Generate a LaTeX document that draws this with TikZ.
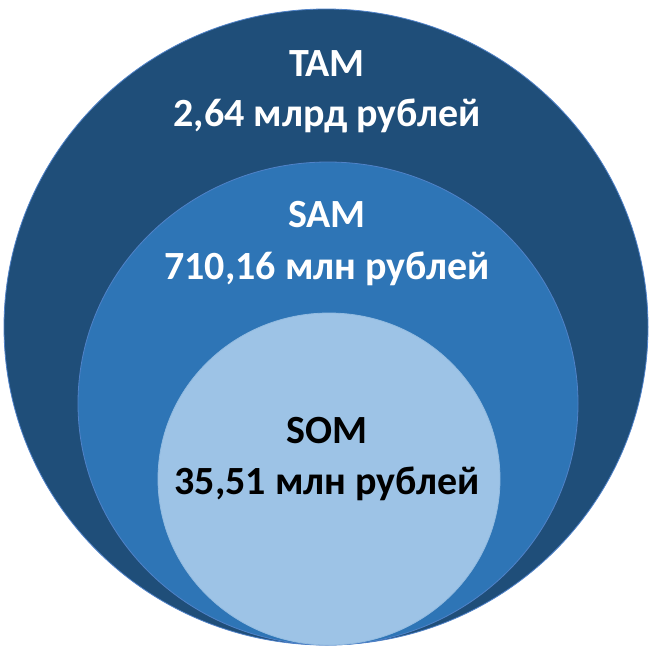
\documentclass[tikz,border=0pt]{standalone}
\usepackage{fontspec}
\setmainfont{Carlito}
\usetikzlibrary{shapes.geometric}
\definecolor{tamblue}{RGB}{31,78,121}
\definecolor{samblue}{RGB}{46,117,182}
\definecolor{somblue}{RGB}{157,195,230}
\definecolor{rimblue}{RGB}{80,130,200}

\begin{document}
\begin{tikzpicture}[
  x=1pt, y=-1pt,
  ring/.style={ellipse, draw=rimblue, line width=0.8pt, inner sep=0pt},
  lbl/.style={anchor=base, inner sep=0pt, font=\bfseries\fontsize{40}{48}\selectfont}
]
\useasboundingbox (0,0) rectangle (656,648);

% nested markets
\node[ring, fill=tamblue, minimum width=644pt, minimum height=636pt] (tam) at (326,327) {};
\node[ring, fill=samblue, minimum width=500pt, minimum height=483pt] (sam) at (328,403.5) {};
\node[ring, fill=somblue, draw=somblue!90!samblue, minimum width=342pt, minimum height=332pt] (som) at (329,479) {};

% labels
\node[lbl, text=white] (tamname) at (327,76) {TAM};
\node[lbl, text=white] (tamsize) at (327,126) {2,64 млрд рублей};
\node[lbl, text=white] (samname) at (327,227) {SAM};
\node[lbl, text=white] (samsize) at (327,279) {710,16 млн рублей};
\node[lbl, text=black] (somname) at (327,443) {SOM};
\node[lbl, text=black] (somsize) at (327,494) {35,51 млн рублей};
\end{tikzpicture}
\end{document}
